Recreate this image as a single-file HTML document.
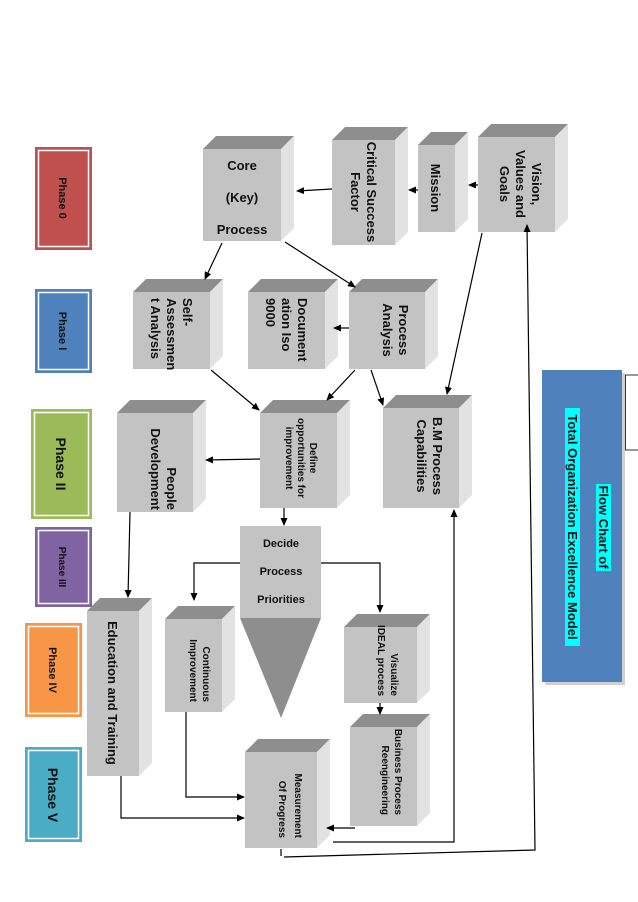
<!DOCTYPE html>
<html><head><meta charset="utf-8"><style>
html,body{margin:0;padding:0;background:#fff;}
svg{display:block;}
text{font-family:"Liberation Sans",sans-serif;font-weight:bold;fill:#111;}
</style></head><body>
<svg width="638" height="902" viewBox="0 0 638 902" xmlns="http://www.w3.org/2000/svg">
<defs>
<marker id="a" markerWidth="8" markerHeight="8" refX="7" refY="4" orient="auto" markerUnits="userSpaceOnUse">
<path d="M0,0.5 L8,4 L0,7.5 z" fill="#000"/></marker>
</defs>
<g id="boxes">
<!-- helper: front rect, top (dark), side (light) -->
<!-- Vision -->
<polygon points="478,137 491,124 568,124 555,137" fill="#8e8e8e"/><polygon points="555,137 568,124 568,219 555,232" fill="#e2e2e2"/><rect x="478" y="137" width="77" height="95" fill="#c3c3c3"/>
<!-- Mission -->
<polygon points="418,145 431,132 468,132 455,145" fill="#8e8e8e"/><polygon points="455,145 468,132 468,219 455,232" fill="#e2e2e2"/><rect x="418" y="145" width="37" height="87" fill="#c3c3c3"/>
<!-- CSF -->
<polygon points="332,140 345,127 408,127 395,140" fill="#8e8e8e"/><polygon points="395,140 408,127 408,232 395,245" fill="#e2e2e2"/><rect x="332" y="140" width="63" height="105" fill="#c3c3c3"/>
<!-- Core -->
<polygon points="203,149 216,136 294,136 281,149" fill="#8e8e8e"/><polygon points="281,149 294,136 294,228 281,241" fill="#e2e2e2"/><rect x="203" y="149" width="78" height="92" fill="#c3c3c3"/>
<!-- Process Analysis -->
<polygon points="349,292 362,279 438,279 425,292" fill="#8e8e8e"/><polygon points="425,292 438,279 438,356 425,369" fill="#e2e2e2"/><rect x="349" y="292" width="76" height="77" fill="#c3c3c3"/>
<!-- Documentation -->
<polygon points="248,292 261,279 338,279 325,292" fill="#8e8e8e"/><polygon points="325,292 338,279 338,356 325,369" fill="#e2e2e2"/><rect x="248" y="292" width="77" height="77" fill="#c3c3c3"/>
<!-- Self -->
<polygon points="133,292 146,279 223,279 210,292" fill="#8e8e8e"/><polygon points="210,292 223,279 223,356 210,369" fill="#e2e2e2"/><rect x="133" y="292" width="77" height="77" fill="#c3c3c3"/>
<!-- BM -->
<polygon points="383,408 396,395 472,395 459,408" fill="#8e8e8e"/><polygon points="459,408 472,395 472,495 459,508" fill="#e2e2e2"/><rect x="383" y="408" width="76" height="100" fill="#c3c3c3"/>
<!-- Define -->
<polygon points="260,413 273,400 350,400 337,413" fill="#8e8e8e"/><polygon points="337,413 350,400 350,495 337,508" fill="#e2e2e2"/><rect x="260" y="413" width="77" height="95" fill="#c3c3c3"/>
<!-- People -->
<polygon points="117,413 130,400 206,400 193,413" fill="#8e8e8e"/><polygon points="193,413 206,400 206,499 193,512" fill="#e2e2e2"/><rect x="117" y="413" width="76" height="99" fill="#c3c3c3"/>
<!-- Continuous -->
<polygon points="165,619 178,606 235,606 222,619" fill="#8e8e8e"/><polygon points="222,619 235,606 235,699 222,712" fill="#e2e2e2"/><rect x="165" y="619" width="57" height="93" fill="#c3c3c3"/>
<!-- Visualize -->
<polygon points="344,627 357,614 430,614 417,627" fill="#8e8e8e"/><polygon points="417,627 430,614 430,690 417,703" fill="#e2e2e2"/><rect x="344" y="627" width="73" height="76" fill="#c3c3c3"/>
<!-- BPR -->
<polygon points="350,727 363,714 430,714 417,727" fill="#8e8e8e"/><polygon points="417,727 430,714 430,813 417,826" fill="#e2e2e2"/><rect x="350" y="727" width="67" height="99" fill="#c3c3c3"/>
<!-- Measurement -->
<polygon points="245,752 258,739 330,739 317,752" fill="#8e8e8e"/><polygon points="317,752 330,739 330,835 317,848" fill="#e2e2e2"/><rect x="245" y="752" width="72" height="96" fill="#c3c3c3"/>
<!-- Education -->
<polygon points="87,611 100,598 152,598 139,611" fill="#8e8e8e"/><polygon points="139,611 152,598 152,763 139,776" fill="#e2e2e2"/><rect x="87" y="611" width="52" height="165" fill="#c3c3c3"/>
<!-- Decide funnel -->
<rect x="240" y="526" width="81" height="92" fill="#c3c3c3"/>
<polygon points="240,618 321,618 281,718" fill="#8e8e8e"/>
</g>

<!-- Phases -->
<g>
<rect x="35" y="147" width="57" height="103" fill="#c0504d"/><rect x="38.5" y="150.5" width="50" height="96" fill="none" stroke="#fff" stroke-width="1.5"/>
<rect x="35" y="289" width="57" height="84" fill="#4f81bd"/><rect x="38.5" y="292.5" width="50" height="77" fill="none" stroke="#fff" stroke-width="1.5"/>
<rect x="31" y="409" width="61" height="110" fill="#9bbb59"/><rect x="34.5" y="412.5" width="54" height="103" fill="none" stroke="#fff" stroke-width="1.5"/>
<rect x="35" y="527" width="57" height="80" fill="#8064a2"/><rect x="38.5" y="530.5" width="50" height="73" fill="none" stroke="#fff" stroke-width="1.5"/>
<rect x="25" y="623" width="57" height="94" fill="#f79646"/><rect x="28.5" y="626.5" width="50" height="87" fill="none" stroke="#fff" stroke-width="1.5"/>
<rect x="25" y="747" width="57" height="95" fill="#4bacc6"/><rect x="28.5" y="750.5" width="50" height="88" fill="none" stroke="#fff" stroke-width="1.5"/>
<g font-size="11" text-anchor="middle">
<text transform="translate(63,198) rotate(90)" dy="4">Phase 0</text>
<text transform="translate(63,331) rotate(90)" dy="4">Phase I</text>
<text transform="translate(61,464) rotate(90)" dy="5" font-size="14">Phase II</text>
<text transform="translate(63,567) rotate(90)" dy="4" font-size="10">Phase III</text>
<text transform="translate(53,670) rotate(90)" dy="4">Phase IV</text>
<text transform="translate(53,795) rotate(90)" dy="5" font-size="14">Phase V</text>
</g>
</g>

<!-- Title box -->
<rect x="545" y="373" width="80" height="312" fill="#d0d0d0"/>
<rect x="542" y="370" width="80" height="312" fill="#4f81bd"/>
<line x1="625" y1="375" x2="638" y2="375" stroke="#333"/>
<line x1="625" y1="450" x2="638" y2="450" stroke="#333"/>
<line x1="625.5" y1="375" x2="625.5" y2="450" stroke="#333"/>
<rect x="596" y="484" width="15" height="87" fill="#00ffff"/>
<rect x="565" y="408" width="15" height="238" fill="#00ffff"/>
<g font-size="13" text-anchor="middle">
<text transform="translate(604,527) rotate(90)" dy="5">Flow Chart of</text>
<text transform="translate(573,527) rotate(90)" dy="5">Total Organization Excellence Model</text>
</g>

<!-- Box labels -->
<g text-anchor="middle" font-size="13">
<text transform="translate(516,184) rotate(90)"><tspan x="0" dy="-16">Vision,</tspan><tspan x="0" dy="16">Values and</tspan><tspan x="0" dy="16">Goals</tspan></text>
<text transform="translate(436,188) rotate(90)" dy="5">Mission</text>
<text transform="translate(363,192) rotate(90)"><tspan x="0" dy="-4">Critical Success</tspan><tspan x="0" dy="16">Factor</tspan></text>
<text x="242" y="170">Core</text>
<text x="242" y="202">(Key)</text>
<text x="242" y="234">Process</text>
<text transform="translate(387,330) rotate(90)"><tspan x="0" dy="-12">Process</tspan><tspan x="0" dy="16">Analysis</tspan></text>
<text transform="translate(286,330) rotate(90)" text-anchor="start"><tspan x="-32" dy="-12">Document</tspan><tspan x="-32" dy="16">ation Iso</tspan><tspan x="-32" dy="16">9000</tspan></text>
<text transform="translate(171,330) rotate(90)" text-anchor="start"><tspan x="-32" dy="-12">Self-</tspan><tspan x="-32" dy="16">Assessmen</tspan><tspan x="-32" dy="16">t Analysis</tspan></text>
<text transform="translate(421,456) rotate(90)"><tspan x="0" dy="-12">B.M Process</tspan><tspan x="0" dy="16">Capabilities</tspan></text>
<g font-size="10"><text transform="translate(298,458) rotate(90)"><tspan x="0" dy="-12">Define</tspan><tspan x="0" dy="12">opportunities for</tspan><tspan x="0" dy="12">improvement</tspan></text></g>
<text transform="translate(155,462) rotate(90)" text-anchor="end"><tspan x="48" dy="-12">People</tspan><tspan x="48" dy="16">Development</tspan></text>
<text transform="translate(113,693) rotate(90)" dy="5">Education and Training</text>
<text x="281" y="547" font-size="11">Decide</text>
<text x="281" y="575" font-size="11">Process</text>
<text x="281" y="603" font-size="11">Priorities</text>
<g font-size="10">
<text transform="translate(193,662) rotate(90)" text-anchor="end"><tspan x="40" dy="-10">Continuous</tspan><tspan x="40" dy="13">Improvement</tspan></text>
<text transform="translate(380,662) rotate(90)" text-anchor="end"><tspan x="34" dy="-11">Visualize</tspan><tspan x="34" dy="13">IDEAL process</tspan></text>
<text transform="translate(383,773) rotate(90)" text-anchor="end"><tspan x="42" dy="-12">Business Process</tspan><tspan x="42" dy="13">Reengineering</tspan></text>
<text transform="translate(281,800) rotate(90)" text-anchor="end"><tspan x="38" dy="-14">Measurement</tspan><tspan x="38" dy="16">Of Progress</tspan></text>
</g>
</g>

<!-- Connectors -->
<g stroke="#000" stroke-width="1.2" fill="none">
<line x1="478" y1="185" x2="469" y2="185" marker-end="url(#a)"/>
<line x1="418" y1="190" x2="409" y2="190" marker-end="url(#a)"/>
<line x1="332" y1="189" x2="297" y2="191" marker-end="url(#a)"/>
<line x1="222" y1="243" x2="205" y2="279" marker-end="url(#a)"/>
<line x1="285" y1="242" x2="355" y2="287" marker-end="url(#a)"/>
<line x1="349" y1="328" x2="334" y2="328" marker-end="url(#a)"/>
<line x1="482" y1="233" x2="447" y2="394" marker-end="url(#a)"/>
<line x1="355" y1="370" x2="327" y2="400" marker-end="url(#a)"/>
<line x1="371" y1="370" x2="383" y2="405" marker-end="url(#a)"/>
<line x1="211" y1="370" x2="259" y2="410" marker-end="url(#a)"/>
<line x1="260" y1="459" x2="206" y2="460" marker-end="url(#a)"/>
<line x1="284" y1="508" x2="284" y2="525" marker-end="url(#a)"/>
<polyline points="240,563 194,563 194,600" marker-end="url(#a)"/>
<polyline points="321,563 380,563 380,612" marker-end="url(#a)"/>
<line x1="380" y1="703" x2="380" y2="714" marker-end="url(#a)"/>
<line x1="355" y1="828" x2="327" y2="828" marker-end="url(#a)"/>
<polyline points="186,712 186,797 244,797" marker-end="url(#a)"/>
<polyline points="121,776 121,818 244,818" marker-end="url(#a)"/>
<line x1="130" y1="512" x2="128" y2="597" marker-end="url(#a)"/>
<polyline points="333,842 454,842 454,510" marker-end="url(#a)"/>
<line x1="281" y1="849" x2="281" y2="856"/>
<polyline points="284,857 535,850 527,225" marker-end="url(#a)"/>
</g>
</svg>
</body></html>
